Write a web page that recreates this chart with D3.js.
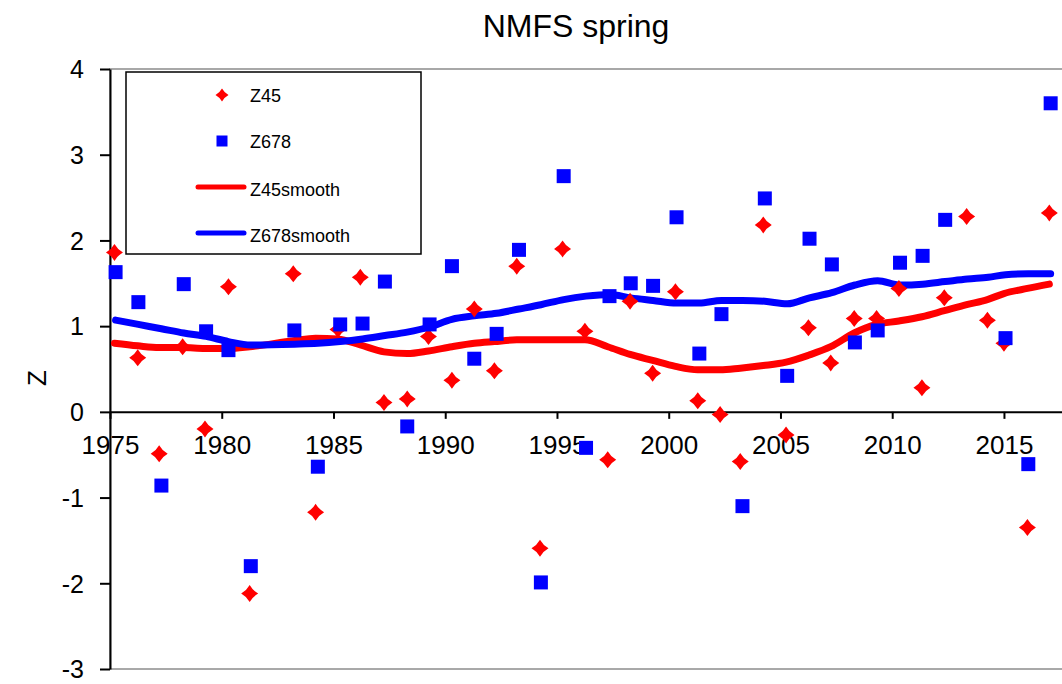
<!DOCTYPE html>
<html>
<head>
<meta charset="utf-8">
<script src="https://cdn.jsdelivr.net/npm/d3@7"></script>
<style>
  body { margin: 0; background: #fff; }
  svg { display: block; font-family: "Liberation Sans", Arial, sans-serif; }
</style>
</head>
<body>
<div id="wrapper"></div>
<script>
const z45Years = [1975.2, 1976.24, 1977.2, 1978.25, 1979.25, 1980.3, 1981.25, 1983.2, 1984.2, 1985.2,
  1986.2, 1987.26, 1988.3, 1989.25, 1990.3, 1991.3, 1992.2, 1993.2, 1994.24, 1995.25,
  1996.25, 1997.27, 1998.27, 1999.28, 2000.3, 2001.3, 2002.3, 2003.2, 2004.23, 2005.25,
  2006.25, 2007.25, 2008.3, 2009.3, 2010.3, 2011.33, 2012.33, 2013.33, 2014.26, 2015.0,
  2016.05, 2017.03];
const z45Values = [1.86, 0.63, -0.49, 0.76, -0.2, 1.46, -2.12, 1.61, -1.17, 0.96,
  1.57, 0.11, 0.15, 0.88, 0.37, 1.2, 0.48, 1.7, -1.59, 1.9,
  0.94, -0.56, 1.29, 0.45, 1.4, 0.13, -0.03, -0.58, 2.18, -0.27,
  0.98, 0.57, 1.09, 1.09, 1.44, 0.28, 1.33, 2.28, 1.07, 0.8,
  -1.35, 2.32];
const z45Smooth = [0.8, 0.77, 0.75, 0.75, 0.74, 0.74, 0.76, 0.83, 0.86, 0.85,
  0.78, 0.7, 0.68, 0.71, 0.76, 0.8, 0.82, 0.84, 0.84, 0.84,
  0.84, 0.76, 0.67, 0.6, 0.53, 0.49, 0.49, 0.51, 0.54, 0.58,
  0.66, 0.76, 0.92, 1.02, 1.06, 1.11, 1.18, 1.25, 1.31, 1.38,
  1.44, 1.49];

const z678Years = [1975.25, 1976.27, 1977.3, 1978.3, 1979.3, 1980.3, 1981.3, 1983.25, 1984.3, 1985.3,
  1986.3, 1987.3, 1988.3, 1989.3, 1990.3, 1991.3, 1992.3, 1993.3, 1994.28, 1995.3,
  1996.3, 1997.35, 1998.3, 1999.3, 2000.35, 2001.37, 2002.36, 2003.3, 2004.3, 2005.3,
  2006.3, 2007.3, 2008.33, 2009.35, 2010.35, 2011.36, 2012.37, 2015.07, 2016.09, 2017.09];
const z678Values = [1.63, 1.28, -0.86, 1.49, 0.94, 0.72, -1.8, 0.95, -0.64, 1.02,
  1.03, 1.52, -0.17, 1.02, 1.7, 0.62, 0.91, 1.89, -1.99, 2.75,
  -0.42, 1.35, 1.5, 1.47, 2.27, 0.68, 1.14, -1.1, 2.49, 0.42,
  2.02, 1.72, 0.81, 0.95, 1.74, 1.82, 2.24, 0.86, -0.61, 3.6];

const z678SmoothYears = [1975.25, 1976.27, 1977.3, 1978.3, 1979.3, 1980.3, 1981.3, 1983.25, 1984.3, 1985.3,
  1986.3, 1987.3, 1988.3, 1989.3, 1990.3, 1991.3, 1992.3, 1993.3, 1994.28, 1995.3,
  1996.3, 1997.35, 1998.3, 1999.3, 2000.35, 2001.37, 2002.36, 2003.3, 2004.3, 2005.3,
  2006.3, 2007.3, 2008.33, 2009.35, 2010.35, 2011.36, 2012.37, 2013.37, 2014.3, 2015.07,
  2016.09, 2017.09];
const z678Smooth = [1.07, 1.02, 0.97, 0.92, 0.88, 0.82, 0.78, 0.79, 0.8, 0.82,
  0.85, 0.89, 0.93, 0.99, 1.08, 1.12, 1.15, 1.2, 1.25, 1.31,
  1.35, 1.37, 1.33, 1.3, 1.27, 1.27, 1.3, 1.3, 1.29, 1.26,
  1.33, 1.39, 1.48, 1.53, 1.48, 1.49, 1.52, 1.55, 1.57, 1.6,
  1.61, 1.61];

const xTicks = [1975, 1980, 1985, 1990, 1995, 2000, 2005, 2010, 2015];
const yTicks = [-3, -2, -1, 0, 1, 2, 3, 4];
const legendLabels = ["Z45", "Z678", "Z45smooth", "Z678smooth"];

function buildChart() {
  const width = 1062;
  const height = 684;

  const svg = d3.select("#wrapper").append("svg")
    .attr("width", width)
    .attr("height", height);

  const x = d3.scaleLinear().domain([1975, 2018]).range([110, 1071]);
  const y = d3.scaleLinear().domain([-3, 4]).range([669, 69]);

  // plot area frame
  svg.append("rect")
    .attr("x", x(1975))
    .attr("y", y(4))
    .attr("width", x(2018) - x(1975))
    .attr("height", y(-3) - y(4))
    .attr("fill", "none")
    .attr("stroke", "#8c8c8c")
    .attr("stroke-width", 1.5);

  // title
  svg.append("text")
    .attr("x", 576)
    .attr("y", 37)
    .attr("text-anchor", "middle")
    .attr("font-size", 32)
    .text("NMFS spring");

  // y axis
  const yAxis = svg.append("g")
    .attr("transform", `translate(${x(1975)},0)`)
    .call(d3.axisLeft(y).tickValues(yTicks).tickFormat(d => String(d))
      .tickSize(10).tickPadding(16).tickSizeOuter(0));
  yAxis.select(".domain").attr("stroke", "#000").attr("stroke-width", 2);
  yAxis.selectAll(".tick line").attr("stroke-width", 2);
  yAxis.selectAll("text")
    .attr("font-size", 25)
    .attr("font-family", "Liberation Sans, Arial, sans-serif")
    .attr("dy", "0.35em");

  // x axis on zero line
  const xAxis = svg.append("g")
    .attr("transform", `translate(0,${y(0)})`)
    .call(d3.axisBottom(x).tickValues(xTicks).tickFormat(d => String(d))
      .tickSize(7).tickPadding(17).tickSizeOuter(0));
  xAxis.select(".domain").attr("stroke", "#000").attr("stroke-width", 2);
  xAxis.selectAll(".tick line").attr("stroke-width", 2);
  xAxis.selectAll("text")
    .attr("font-size", 26)
    .attr("font-family", "Liberation Sans, Arial, sans-serif");

  // y label
  svg.append("text")
    .attr("transform", "translate(46,378) rotate(-90)")
    .attr("text-anchor", "middle")
    .attr("font-size", 26)
    .text("Z");

  const plot = svg.append("g");

  const line = d3.line()
    .x(d => x(d[0]))
    .y(d => y(d[1]))
    .curve(d3.curveMonotoneX);

  // smooth lines
  plot.append("path")
    .datum(d3.zip(z45Years, z45Smooth))
    .attr("d", line)
    .attr("fill", "none")
    .attr("stroke", "#ff0000")
    .attr("stroke-width", 7)
    .attr("stroke-linecap", "round")
    .attr("stroke-linejoin", "round");

  plot.append("path")
    .datum(d3.zip(z678SmoothYears, z678Smooth))
    .attr("d", line)
    .attr("fill", "none")
    .attr("stroke", "#0000ff")
    .attr("stroke-width", 7)
    .attr("stroke-linecap", "round")
    .attr("stroke-linejoin", "round");

  const diamond = r => {
    const k = r * 0.36;
    return `M0,${-r}Q${k},${-k} ${r},0Q${k},${k} 0,${r}Q${-k},${k} ${-r},0Q${-k},${-k} 0,${-r}Z`;
  };

  plot.selectAll(".z45")
    .data(d3.zip(z45Years, z45Values))
    .join("path")
    .attr("class", "z45")
    .attr("d", diamond(8.5))
    .attr("transform", d => `translate(${x(d[0])},${y(d[1])})`)
    .attr("fill", "#ff0000");

  plot.selectAll(".z678")
    .data(d3.zip(z678Years, z678Values))
    .join("rect")
    .attr("class", "z678")
    .attr("x", d => x(d[0]) - 7)
    .attr("y", d => y(d[1]) - 7)
    .attr("width", 14)
    .attr("height", 14)
    .attr("fill", "#0000ff");

  // legend
  const legend = svg.append("g");
  legend.append("rect")
    .attr("x", 126)
    .attr("y", 72)
    .attr("width", 295)
    .attr("height", 182)
    .attr("fill", "#fff")
    .attr("stroke", "#000")
    .attr("stroke-width", 1.5);

  const rows = legend.selectAll(".row")
    .data(legendLabels)
    .join("g")
    .attr("class", "row")
    .attr("transform", (d, i) => `translate(0,${95 + i * 46})`);

  rows.append("text")
    .attr("x", 250)
    .attr("y", (d, i) => (i < 2 ? 6.5 : 8.5))
    .attr("font-size", 18)
    .text(d => d);

  rows.filter((d, i) => i === 0).append("path")
    .attr("d", diamond(6.5))
    .attr("transform", "translate(222,0)")
    .attr("fill", "#ff0000");

  rows.filter((d, i) => i === 1).append("rect")
    .attr("x", 216.5)
    .attr("y", -5.5)
    .attr("width", 11)
    .attr("height", 11)
    .attr("fill", "#0000ff");

  rows.filter((d, i) => i >= 2).append("line")
    .attr("x1", 198)
    .attr("x2", 244)
    .attr("y1", 0)
    .attr("y2", 0)
    .attr("stroke", (d, i) => (i === 0 ? "#ff0000" : "#0000ff"))
    .attr("stroke-width", 5)
    .attr("stroke-linecap", "round");
}

buildChart();
</script>
</body>
</html>
